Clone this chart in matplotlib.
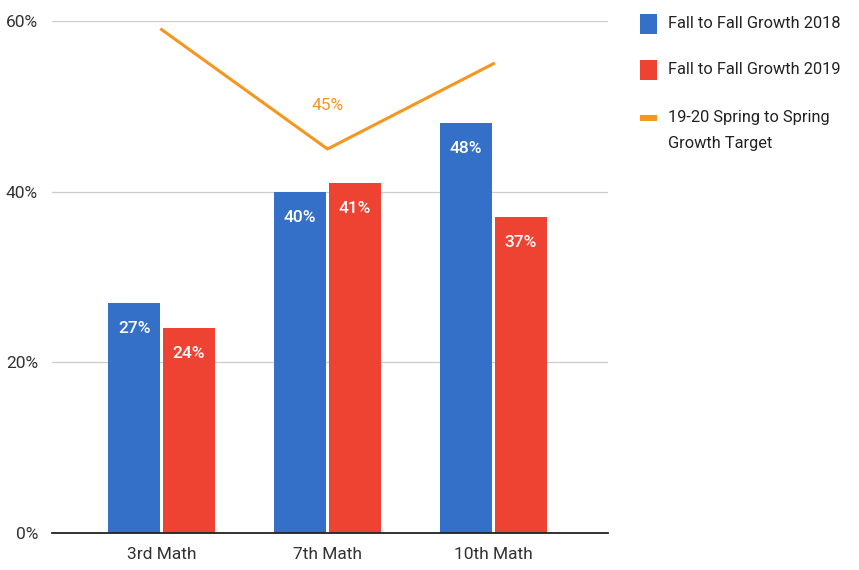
import matplotlib
matplotlib.use("Agg")
import matplotlib.pyplot as plt
from matplotlib.patches import Rectangle
import numpy as np

categories = ["3rd Math", "7th Math", "10th Math"]
growth_2018 = [27, 40, 48]
growth_2019 = [24, 41, 37]
target = [59, 45, 55]
target_labels = ["", "45%", ""]
yticks = [0, 20, 40, 60]
legend_labels = ["Fall to Fall Growth 2018", "Fall to Fall Growth 2019",
                 "19-20 Spring to Spring\nGrowth Target"]

plt.rcParams['font.family'] = ['Roboto', 'DejaVu Sans']

BLUE = "#3470C8"
RED = "#EE4233"
ORANGE = "#F5961F"
W, H = 859, 570

fig = plt.figure(figsize=(8.59, 5.70), dpi=100)
ax = fig.add_axes([52/W, 37/H, (608-52)/W, (533-21)/H])

x = np.arange(len(categories))
w = 0.31
gap = 0.01
b1 = ax.bar(x - w/2 - gap, growth_2018, w, color=BLUE, zorder=3)
b2 = ax.bar(x + w/2 + gap, growth_2019, w, color=RED, zorder=3)
ax.plot(x, target, color=ORANGE, lw=2.2, zorder=4)

for bars, vals in ((b1, growth_2018), (b2, growth_2019)):
    for r, v in zip(bars, vals):
        ax.annotate(f"{v}%", (r.get_x() + r.get_width()/2, v), xytext=(0, -13),
                    textcoords="offset points", ha="center", va="top",
                    color="white", fontsize=12.5, fontweight="medium", zorder=5)

for xi, t, lab in zip(x, target, target_labels):
    if lab:
        ax.annotate(lab, (xi, t), xytext=(0, 26), textcoords="offset points",
                    ha="center", va="bottom", color=ORANGE, fontsize=12.5, zorder=5)

ax.set_xlim(-0.66, 2.69)
ax.set_ylim(0, 60)
ax.set_yticks(yticks)
ax.set_yticklabels([f"{t}%" for t in yticks])
ax.set_xticks(x)
ax.set_xticklabels(categories)
ax.tick_params(axis="both", length=0, labelsize=12.5, colors="#333333")
ax.tick_params(axis="y", pad=10)
ax.tick_params(axis="x", pad=10)
ax.grid(axis="y", color="#cccccc", lw=0.9, zorder=0)
for s in ("top", "right", "left"):
    ax.spines[s].set_visible(False)
ax.spines["bottom"].set_color("#222222")
ax.spines["bottom"].set_linewidth(1.3)
ax.spines["bottom"].set_zorder(4)

# legend (manual layout)
fig.add_artist(Rectangle((640/W, 1 - 34/H), 17/W, 20/H, transform=fig.transFigure,
                         facecolor=BLUE, edgecolor="none"))
fig.add_artist(Rectangle((640/W, 1 - 80/H), 17/W, 20/H, transform=fig.transFigure,
                         facecolor=RED, edgecolor="none"))
fig.add_artist(Rectangle((640/W, 1 - 121/H), 17/W, 6/H, transform=fig.transFigure,
                         facecolor=ORANGE, edgecolor="none"))
fig.text(668/W, 1 - 24/H, legend_labels[0], va="center", ha="left",
         fontsize=11.8, color="#222222")
fig.text(668/W, 1 - 70/H, legend_labels[1], va="center", ha="left",
         fontsize=11.8, color="#222222")
fig.text(668/W, 1 - 110/H, legend_labels[2], va="top", ha="left",
         fontsize=11.8, color="#222222", linespacing=1.95)

fig.savefig("out.png", dpi=100)
